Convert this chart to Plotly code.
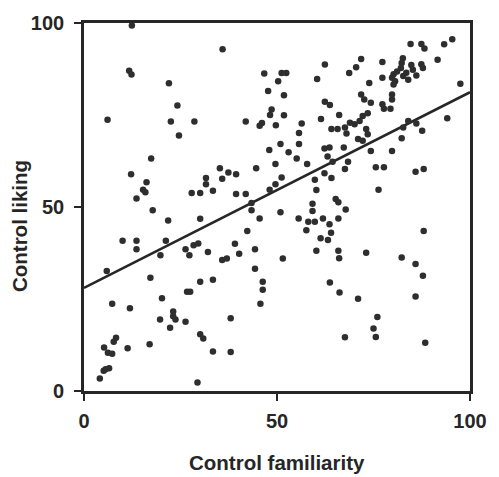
import plotly.graph_objects as go

# Control familiarity (x) and Control liking (y) for each item
familiarity = [
    12.4, 11.7, 12.3, 22.0, 24.2, 6.1, 22.5, 28.6, 24.6,
    35.9, 46.7, 51.2, 52.4, 50.3, 62.4, 60.4, 47.7, 51.8, 62.4, 63.7, 48.6, 48.2, 51.8, 41.9,
    46.1, 45.5, 49.7, 56.4, 55.7, 61.4, 66.1, 64.1, 65.7,
    84.6, 87.4, 88.2, 93.3, 95.4, 71.8, 70.5, 68.7, 77.3, 82.6, 82.3, 82.1, 87.4, 87.8, 91.6,
    80.2, 81.1, 79.8, 80.6, 82.7, 84.0, 85.2, 86.1, 77.3, 73.9, 80.2, 97.5, 71.8, 72.6, 74.3,
    79.8, 79.8, 77.3, 77.7, 79.4, 73.5, 72.2, 71.4, 68.9, 70.1, 67.6, 73.1, 73.5, 68.0, 71.0,
    72.2, 84.0, 86.1, 82.7, 94.1, 87.6, 82.3, 83.5, 84.8,
    17.4, 12.2, 16.2, 15.3, 15.9, 13.6, 17.8, 21.8, 30.1, 27.9, 30.1, 31.6, 31.6, 33.4, 10.0,
    13.6, 13.6, 21.2, 19.8, 26.3, 27.3, 28.4, 29.6, 32.1,
    50.9, 55.7, 48.0, 53.0, 55.1, 57.8, 62.3, 63.6, 63.1, 64.4, 67.3, 67.6, 49.6, 44.6, 35.2,
    37.4, 39.4, 35.8, 51.2, 49.6, 48.1, 62.3, 64.1, 59.8, 60.2, 39.4, 41.9, 43.4, 43.4, 45.5,
    50.9, 55.6, 59.2, 59.2, 65.2, 65.9, 67.8, 58.1, 59.8, 57.6, 61.9, 63.6, 64.0, 65.9, 42.3,
    61.3, 63.2, 39.1, 40.2, 44.3, 35.8, 37.0, 51.5, 60.2, 65.9, 66.1,
    74.3, 79.8, 68.4, 75.6, 77.7, 85.9, 88.0, 76.3, 88.0, 73.1, 82.3, 85.9,
    5.9, 17.2, 30.1, 33.4, 26.7, 27.5, 20.2, 7.3, 11.9, 23.1, 23.1, 23.7, 19.7, 26.3, 22.3,
    30.1, 30.9, 8.3, 7.7, 5.2, 6.2, 7.3, 11.3, 17.0, 33.4, 5.6, 6.5, 5.1, 4.1, 29.4,
    44.3, 46.3, 46.3, 45.7, 38.0, 38.0, 63.7, 66.2, 67.6,
    87.8, 71.0, 85.9, 76.0, 75.0, 75.6, 88.4,
]
liking = [
    99.3, 87.0, 86.0, 83.6, 77.6, 73.7, 73.2, 73.2, 69.4,
    92.9, 86.3, 86.4, 86.4, 84.2, 88.7, 84.8, 81.5, 80.4, 78.6, 77.7, 76.5, 75.0, 74.9, 73.2,
    72.8, 72.1, 72.2, 72.7, 70.1, 73.9, 75.0, 71.2, 71.2,
    94.3, 94.3, 93.1, 94.2, 95.6, 90.2, 88.0, 86.4, 89.4, 90.4, 89.1, 87.8, 88.8, 87.8, 90.0,
    86.1, 86.8, 85.1, 84.2, 85.6, 84.6, 87.3, 85.7, 85.1, 83.7, 83.3, 83.5, 80.6, 79.2, 78.3,
    80.6, 79.2, 77.9, 76.7, 76.7, 75.5, 74.7, 73.4, 72.9, 72.5, 71.6, 71.2, 69.8, 70.0, 68.5,
    68.0, 73.4, 72.7, 71.6, 74.1, 70.7, 68.7, 86.5, 88.6,
    63.2, 58.9, 56.7, 54.7, 54.0, 52.3, 49.1, 46.3, 46.8, 53.8, 53.8, 57.9, 56.2, 54.4, 40.8,
    40.8, 38.5, 40.8, 36.9, 38.5, 36.9, 39.6, 40.1, 37.8,
    67.1, 67.1, 65.5, 64.9, 63.2, 61.7, 65.9, 66.2, 63.7, 62.3, 66.2, 60.3, 61.7, 60.5, 60.5,
    59.4, 58.9, 57.7, 58.0, 56.2, 54.7, 59.2, 57.9, 57.4, 54.6, 53.5, 53.5, 51.1, 49.1, 46.9,
    48.6, 46.9, 50.9, 48.9, 52.2, 51.3, 49.3, 46.0, 46.0, 43.7, 46.9, 45.3, 43.0, 46.9, 43.5,
    41.5, 41.0, 40.0, 37.3, 38.5, 35.6, 36.0, 36.0, 38.1, 38.1, 36.1,
    65.2, 65.2, 62.3, 60.8, 60.8, 59.6, 60.3, 54.7, 43.5, 37.6, 36.3, 34.5,
    32.6, 30.8, 29.7, 30.2, 27.0, 27.0, 25.2, 23.7, 22.5, 21.6, 20.3, 19.4, 19.4, 18.8, 17.2,
    15.4, 14.3, 14.5, 13.4, 11.8, 10.4, 10.1, 11.6, 12.7, 10.7, 5.9, 6.2, 5.5, 3.4, 2.3,
    33.2, 29.7, 27.5, 23.7, 19.8, 10.6, 29.5, 26.8, 14.6,
    31.3, 25.1, 25.7, 20.1, 17.0, 14.7, 13.1,
]

# Regression line end points
line_x = [0, 100]
line_y = [28, 81.2]

tick_vals = [0, 50, 100]
tick_text = ["0", "50", "100"]

ink = "#262626"
font_family = "Liberation Sans, Arial, sans-serif"

fig = go.Figure()
fig.add_trace(go.Scatter(
    x=line_x, y=line_y, mode="lines",
    line=dict(color=ink, width=2.6),
    hoverinfo="skip", showlegend=False,
))
fig.add_trace(go.Scatter(
    x=familiarity, y=liking, mode="markers",
    marker=dict(color="#2e2e2e", size=6.5, line=dict(width=0)),
    cliponaxis=False, showlegend=False,
))

axis_common = dict(
    range=[0, 100],
    tickvals=tick_vals, ticktext=tick_text,
    showgrid=False, zeroline=False,
    showline=True, linecolor=ink, linewidth=2.6, mirror=True,
    ticks="outside", ticklen=7, tickwidth=2.2, tickcolor=ink,
    tickfont=dict(family=font_family, size=20, color=ink, weight="bold"),
)

fig.update_layout(
    width=499, height=477,
    margin=dict(l=84, r=19, t=20, b=86),
    paper_bgcolor="white", plot_bgcolor="white",
    xaxis=dict(**axis_common, ticklabelstandoff=3),
    yaxis=dict(**axis_common, ticklabelstandoff=6),
    annotations=[
        dict(text="Control familiarity", xref="paper", yref="paper",
             x=0.5, y=-0.195, xanchor="center", yanchor="middle", showarrow=False,
             font=dict(family=font_family, size=20.5, color=ink, weight="bold")),
        dict(text="Control liking", xref="paper", yref="paper",
             x=-0.167, y=0.447, xanchor="center", yanchor="middle", showarrow=False,
             textangle=-90,
             font=dict(family=font_family, size=20.5, color=ink, weight="bold")),
    ],
)

fig.write_html("out.html")
